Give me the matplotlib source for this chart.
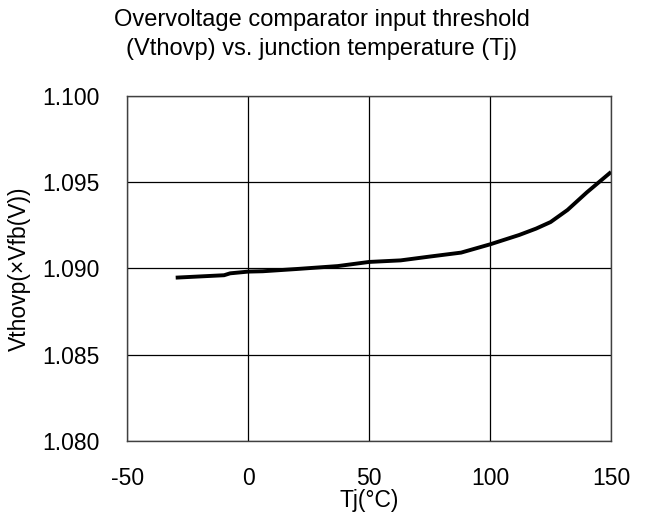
import matplotlib
matplotlib.use("Agg")
import matplotlib.pyplot as plt

tj = [-30, -10, -7.5, 0, 6, 20, 37, 50, 63, 75, 88, 100, 112, 119, 125, 132, 140, 150]
vthovp = [1.08946, 1.08960, 1.08971, 1.08981, 1.08983, 1.08996, 1.09013, 1.09037, 1.09046,
          1.09068, 1.09091, 1.09139, 1.09193, 1.09230, 1.09268, 1.09338, 1.09440, 1.09558]
xticks = [-50, 0, 50, 100, 150]
xtick_labels = ["-50", "0", "50", "100", "150"]
yticks = [1.080, 1.085, 1.090, 1.095, 1.100]
ytick_labels = ["1.080", "1.085", "1.090", "1.095", "1.100"]

plt.rcParams['font.family'] = ['Liberation Sans', 'DejaVu Sans']

fig = plt.figure(figsize=(6.48, 5.17), dpi=100)
ax = fig.add_axes([0.1965, 0.147, 0.7465, 0.668])
ax.plot(tj, vthovp, color='black', lw=2.8, solid_capstyle='butt')
ax.set_xlim(-50, 150)
ax.set_ylim(1.080, 1.100)
ax.set_xticks(xticks)
ax.set_xticklabels(xtick_labels)
ax.set_yticks(yticks)
ax.set_yticklabels(ytick_labels)
ax.grid(True, color='black', lw=0.9)
for s in ax.spines.values():
    s.set_color('#404040')
    s.set_linewidth(1.0)
ax.tick_params(axis='both', length=0, labelsize=16.5, pad=20)
ax.tick_params(axis='x', pad=19)
ax.set_xlabel('Tj(°C)', fontsize=16.5, labelpad=-1)
ax.set_ylabel('Vthovp(×Vfb(V))', fontsize=16.5, labelpad=8)
fig.text(0.497, 0.961, 'Overvoltage comparator input threshold', ha='center', va='center', fontsize=17)
fig.text(0.497, 0.906, '(Vthovp) vs. junction temperature (Tj)', ha='center', va='center', fontsize=17)
fig.savefig('out.png', dpi=100)
